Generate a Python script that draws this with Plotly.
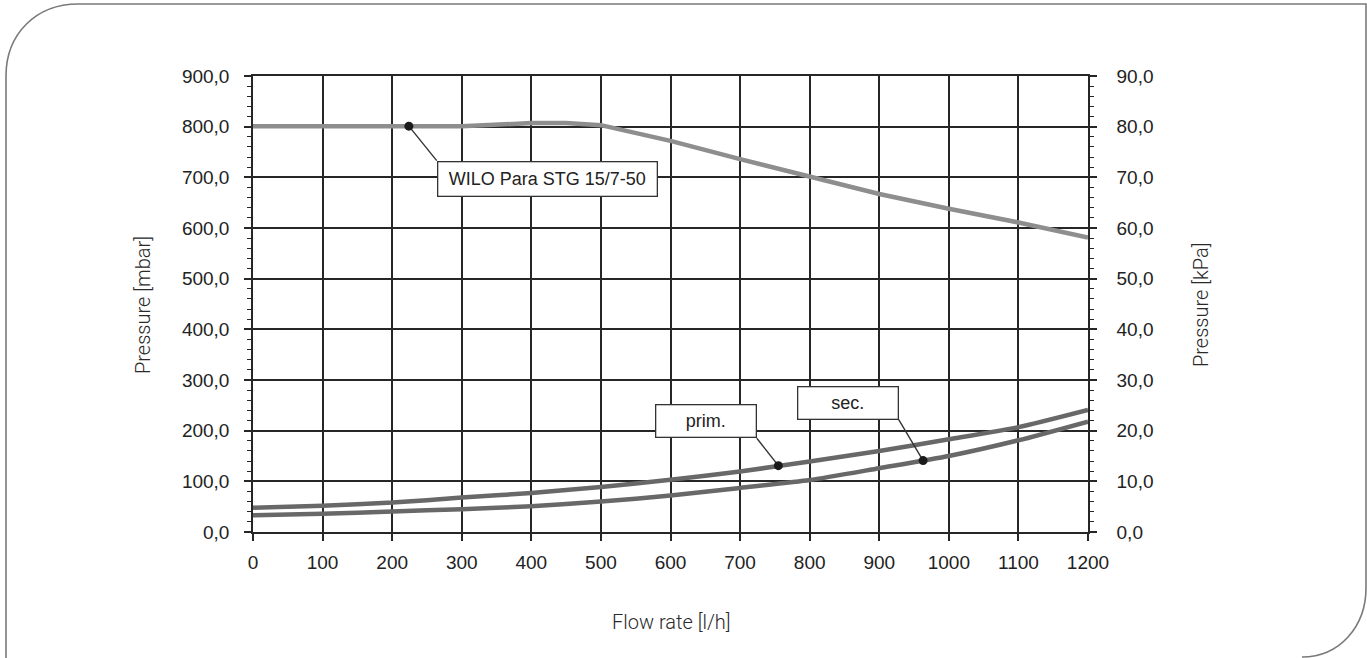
import plotly.graph_objects as go

# ---------------- data ----------------
flow = [0, 100, 200, 300, 400, 500, 600, 700, 800, 900, 1000, 1100, 1200]
prim = [48, 52, 58, 68, 77, 89, 103, 119.5, 139, 160, 183, 207, 241]
sec = [33, 36, 40.5, 45, 51, 60, 72, 87, 102.5, 126, 150, 181, 218]

wilo_flow = [0, 100, 200, 300, 400, 450, 500, 600, 700, 800, 900, 1000, 1100, 1200]
wilo_p = [801, 801, 801, 801, 807, 807, 803, 772, 736, 701, 667, 638, 611, 581]

# callouts: point on curve, label text, label-box anchor corner (data units)
callout_text = ["WILO Para STG 15/7-50", "prim.", "sec."]
callout_pt_x = [224, 755, 963]
callout_pt_y = [801, 131, 141]
callout_box_x = [264, 724, 928]
callout_box_y = [733, 185, 222]

x_title = "Flow rate [l/h]"
y_title = "Pressure [mbar]"
y2_title = "Pressure [kPa]"

# ---------------- layout geometry ----------------
W, H = 1367, 658
L, R, T, B = 253, 279, 76, 126
PW, PH = W - L - R, H - T - B


def px(xp):
    return (xp - L) / PW


def py(yp):
    return (H - B - yp) / PH


GRID = "#262626"
TICKFONT = dict(family="Liberation Sans, Arial, sans-serif", size=19, color="#222222")
TITLEFONT = dict(family="Roboto, Lato, sans-serif", size=20, color="#2a2a2a", weight=300)

fig = go.Figure()

fig.add_trace(go.Scatter(x=wilo_flow, y=wilo_p, mode="lines",
                         line=dict(color="#8e8e8e", width=4.5), hoverinfo="skip"))
fig.add_trace(go.Scatter(x=flow, y=prim, mode="lines",
                         line=dict(color="#686868", width=4.5, shape="spline", smoothing=0.6),
                         hoverinfo="skip"))
fig.add_trace(go.Scatter(x=flow, y=sec, mode="lines",
                         line=dict(color="#686868", width=4.5, shape="spline", smoothing=0.6),
                         hoverinfo="skip"))

# leader lines
for i in range(len(callout_text)):
    fig.add_trace(go.Scatter(x=[callout_pt_x[i], callout_box_x[i]],
                             y=[callout_pt_y[i], callout_box_y[i]],
                             mode="lines", line=dict(color="#333333", width=1.4),
                             hoverinfo="skip"))
# dots
fig.add_trace(go.Scatter(x=callout_pt_x, y=callout_pt_y, mode="markers",
                         marker=dict(color="#1a1a1a", size=9), hoverinfo="skip"))

# dummy trace for the right axis
fig.add_trace(go.Scatter(x=[None], y=[None], yaxis="y2", hoverinfo="skip"))

# label boxes
anchors = [("left", "top"), ("right", "bottom"), ("right", "bottom")]
widths = [216, 97, 97]
for i, t in enumerate(callout_text):
    fig.add_annotation(x=callout_box_x[i], y=callout_box_y[i], xref="x", yref="y",
                       text=t, showarrow=False,
                       xanchor=anchors[i][0], yanchor=anchors[i][1],
                       font=dict(family="Liberation Sans, Arial, sans-serif", size=18, color="#222222"),
                       bgcolor="white", bordercolor="#333333", borderwidth=1.3,
                       borderpad=1, width=widths[i], height=29 if i else 31, align="center")

# axis titles as annotations
for xx, yy, txt, ang in [(143, 305, y_title, -90), (1201, 305, y2_title, -90), (671, 622, x_title, 0)]:
    fig.add_annotation(x=px(xx), y=py(yy), xref="paper", yref="paper", text=txt,
                       textangle=ang, showarrow=False, font=TITLEFONT,
                       xanchor="center", yanchor="middle")

# frame with rounded corners
pts = [
    ("M", [(6, 660)]),
    ("L", [(6, 76)]),
    ("C", [(6, 34), (36, 4), (78, 4)]),
    ("L", [(1366, 4)]),
    ("L", [(1366, 588)]),
    ("C", [(1366, 626), (1340, 657), (1302, 657)]),
]
path = " ".join(cmd + " " + " ".join(f"{px(a):.5f},{py(b):.5f}" for a, b in p) for cmd, p in pts)
fig.add_shape(type="path", path=path, xref="paper", yref="paper",
              line=dict(color="#7a7a7a", width=1.6), layer="above")

fig.update_layout(
    width=W, height=H,
    margin=dict(l=L, r=R, t=T, b=B),
    paper_bgcolor="white", plot_bgcolor="white",
    showlegend=False,
    separators=",.",
    xaxis=dict(range=[0, 1200], dtick=100, tick0=0, tickformat="d",
               showgrid=True, gridcolor=GRID, gridwidth=1.5,
               showline=True, linecolor=GRID, linewidth=1.5, mirror=True,
               ticks="outside", ticklen=7, tickwidth=1.5, tickcolor=GRID,
               ticklabelstandoff=5,
               tickfont=TICKFONT, zeroline=False, fixedrange=True),
    yaxis=dict(range=[0, 900], dtick=100, tick0=0, tickformat=".1f",
               showgrid=True, gridcolor=GRID, gridwidth=1.5,
               showline=True, linecolor=GRID, linewidth=1.5, mirror=True,
               ticks="outside", ticklen=7, tickwidth=1.5, tickcolor=GRID,
               minor=dict(dtick=20, ticks="outside", ticklen=4, tickwidth=1.2,
                          tickcolor=GRID, showgrid=False),
               ticklabelstandoff=11,
               tickfont=TICKFONT, zeroline=False, fixedrange=True),
    yaxis2=dict(range=[0, 90], dtick=10, tick0=0, tickformat=".1f",
                overlaying="y", side="right", showgrid=False,
                showline=True, linecolor=GRID, linewidth=1.5,
                ticks="outside", ticklen=7, tickwidth=1.5, tickcolor=GRID,
                minor=dict(dtick=2, ticks="outside", ticklen=4, tickwidth=1.2,
                           tickcolor=GRID, showgrid=False),
                ticklabelstandoff=16,
                tickfont=TICKFONT, zeroline=False, fixedrange=True),
)

fig.write_html("out.html", config={"displayModeBar": False},
               post_script="document.body.style.margin='0';document.body.style.overflow='hidden';")
